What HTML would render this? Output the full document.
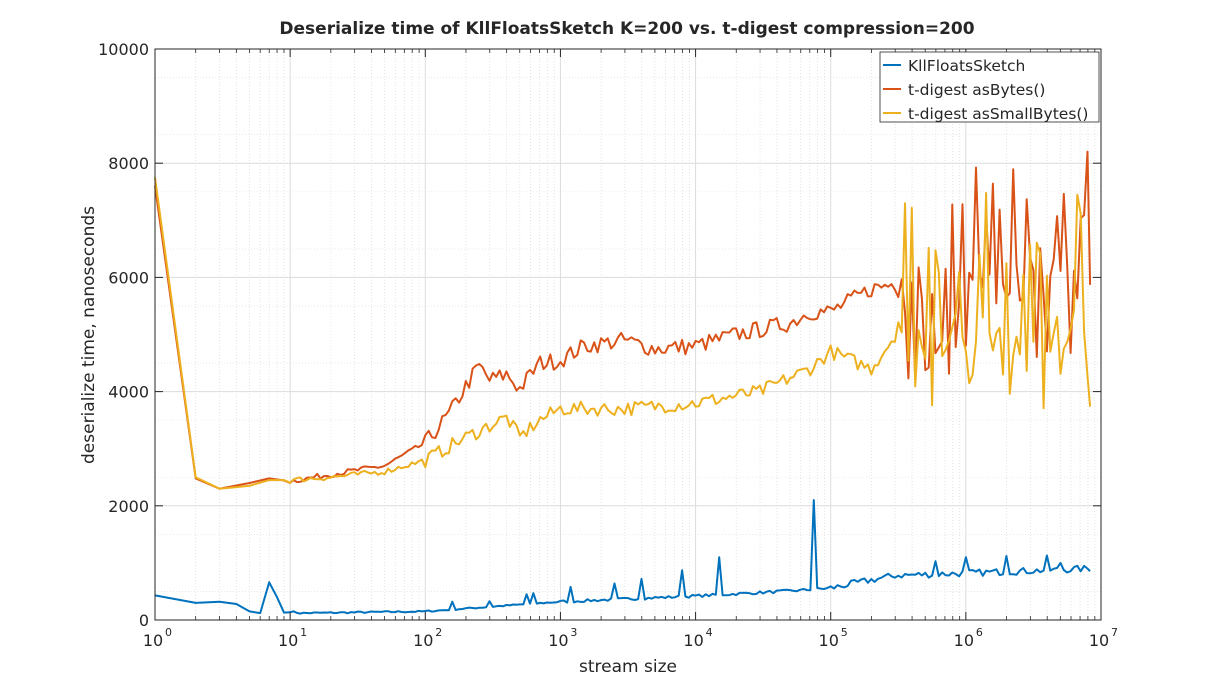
<!DOCTYPE html>
<html><head><meta charset="utf-8"><style>
body{margin:0;background:#fff;}
svg text{font-family:"DejaVu Sans","Liberation Sans",sans-serif;fill:#262626;}
</style></head><body>
<svg id="s" width="1215" height="694" xmlns="http://www.w3.org/2000/svg">
<rect width="1215" height="694" fill="#fff"/>
<g id="grid"></g>
<g id="lines" fill="none" stroke-width="2" stroke-linejoin="round"></g>
<rect x="155" y="49" width="946" height="571" fill="none" stroke="#262626" stroke-width="1"/>
<g id="ticks"></g>
<text x="627" y="34" font-size="17" font-weight="bold" text-anchor="middle">Deserialize time of KllFloatsSketch K=200 vs. t-digest compression=200</text>
<text x="628" y="672" font-size="17" text-anchor="middle">stream size</text>
<text transform="translate(94,335) rotate(-90)" font-size="17" text-anchor="middle">deserialize time, nanoseconds</text>
<g>
<rect x="880" y="52" width="219" height="70" fill="#fff" stroke="#262626" stroke-width="0.8"/>
<line x1="883" y1="65" x2="901" y2="65" stroke="#0072BD" stroke-width="2"/>
<line x1="883" y1="89" x2="901" y2="89" stroke="#D95319" stroke-width="2"/>
<line x1="883" y1="113" x2="901" y2="113" stroke="#EDB120" stroke-width="2"/>
<text x="908" y="71" font-size="15.5">KllFloatsSketch</text>
<text x="908" y="95" font-size="15.5">t-digest asBytes()</text>
<text x="908" y="119" font-size="15.5">t-digest asSmallBytes()</text>
</g>
</svg>
<script>
const X0=155,X1=1101,Y0=620,Y1=49;
const dx=(X1-X0)/7;
const px=v=>X0+Math.log10(v)*dx, py=v=>Y0-v*(Y0-Y1)/10000;
const NS="http://www.w3.org/2000/svg";
function el(p,t,a,txt){const e=document.createElementNS(NS,t);for(const k in a)e.setAttribute(k,a[k]);if(txt!==undefined)e.textContent=txt;document.getElementById(p).appendChild(e);return e;}
for(let d=0;d<7;d++)for(let m=2;m<=9;m++){const x=px(m*Math.pow(10,d));el('grid','line',{x1:x,x2:x,y1:Y1,y2:Y0,stroke:'#ddd','stroke-width':0.8,'stroke-dasharray':'1,2'});
el('ticks','line',{x1:x,x2:x,y1:Y0,y2:Y0-4,stroke:'#262626','stroke-width':0.8});el('ticks','line',{x1:x,x2:x,y1:Y1,y2:Y1+4,stroke:'#262626','stroke-width':0.8});}
for(let v=500;v<10000;v+=1000){const y=py(v);el('grid','line',{x1:X0,x2:X1,y1:y,y2:y,stroke:'#e4e4e4','stroke-width':0.8,'stroke-dasharray':'1,2'});}
for(let d=0;d<=7;d++){const x=px(Math.pow(10,d));el('grid','line',{x1:x,x2:x,y1:Y1,y2:Y0,stroke:'#dcdcdc','stroke-width':1});
el('ticks','line',{x1:x,x2:x,y1:Y0,y2:Y0-8,stroke:'#262626'});el('ticks','line',{x1:x,x2:x,y1:Y1,y2:Y1+8,stroke:'#262626'});
el('ticks','text',{x:x-2,y:646,'font-size':16,'text-anchor':'middle'},'10');el('ticks','text',{x:x+10,y:636,'font-size':11},String(d));}
for(let v=0;v<=10000;v+=2000){const y=py(v);el('grid','line',{x1:X0,x2:X1,y1:y,y2:y,stroke:'#dcdcdc','stroke-width':1});
el('ticks','line',{x1:X0,x2:X0+8,y1:y,y2:y,stroke:'#262626'});el('ticks','line',{x1:X1,x2:X1-8,y1:y,y2:y,stroke:'#262626'});
el('ticks','text',{x:149,y:y+6,'font-size':16,'text-anchor':'end'},String(v));}
let seed=7;const rnd=()=>{seed=(seed*16807)%2147483647;return seed/2147483647;};
function interp(pts,v){const l=Math.log10(v);for(let i=0;i<pts.length-1;i++){const a=Math.log10(pts[i][0]),b=Math.log10(pts[i+1][0]);if(l>=a&&l<=b){const t=(l-a)/(b-a||1);return pts[i][1]+t*(pts[i+1][1]-pts[i][1]);}}return pts[pts.length-1][1];}
const xs=[];for(let i=1;i<10;i++)xs.push(i);let v=10;while(v<8.3e6){xs.push(v);v*=Math.pow(10,1/40);}xs.push(8.3e6);
const blueP=[[1,430],[2,300],[3,320],[4,280],[5,150],[6,120],[7,660],[8,400],[9,130],[10,150],[12,120],[100,150],[1000,320],[1e4,420],[3e4,480],[6e4,520],[1e5,560],[2e5,700],[3e5,780],[1e6,820],[8.3e6,900]];
const spikes=[[160,320],[300,330],[550,450],[650,470],[1200,580],[2500,640],[4000,720],[8000,870],[15000,1100],[73000,2100],[600000,1030],[1000000,1100],[2000000,1120],[4000000,1130],[5000000,1000]];
function series(pts,noise,wildFrom,wlo,whi,col,ext){let d='';const used=new Set();xs.forEach((x,i)=>{let y=interp(pts,x);if(x>=10)y+=(rnd()-0.5)*noise(x);
if(wildFrom&&x>wildFrom){const r=rnd();y=r<0.5?y+(rnd()-0.5)*800:(r<0.75?whi-rnd()*1500:wlo+rnd()*700);}
if(ext)ext.forEach((s,k)=>{if(!used.has(k)&&Math.abs(Math.log10(x/s[0]))<0.013){y=s[1];used.add(k);}});
d+=(i?'L':'M')+px(x).toFixed(1)+','+py(y).toFixed(1);});el('lines','path',{d:d,stroke:col});}
series(blueP,x=>x<1000?30:(x<1e5?50:120),0,0,0,'#0072BD',spikes);
const redP=[[1,7600],[2,2480],[3,2300],[5,2400],[7,2480],[10,2430],[20,2550],[50,2700],[100,3100],[150,3600],[200,4100],[250,4450],[300,4200],[400,4300],[500,4050],[700,4500],[1000,4550],[1500,4800],[3000,4900],[5000,4750],[1e4,4800],[2e4,5000],[5e4,5200],[7e4,5400],[1e5,5400],[2e5,5800],[3e5,5900],[8.3e6,6000]];
series(redP,x=>x<100?100:300,3e5,4200,8500,'#D95319');
const yelP=[[1,7750],[2,2500],[3,2300],[5,2350],[7,2450],[10,2450],[20,2500],[50,2600],[100,2800],[200,3200],[400,3550],[500,3200],[700,3500],[1000,3700],[3000,3700],[1e4,3800],[3e4,4000],[7e4,4400],[1e5,4700],[2e5,4400],[3e5,5000],[8.3e6,5000]];
series(yelP,x=>x<100?100:250,3e5,3700,7500,'#EDB120');
</script>
</body></html>
